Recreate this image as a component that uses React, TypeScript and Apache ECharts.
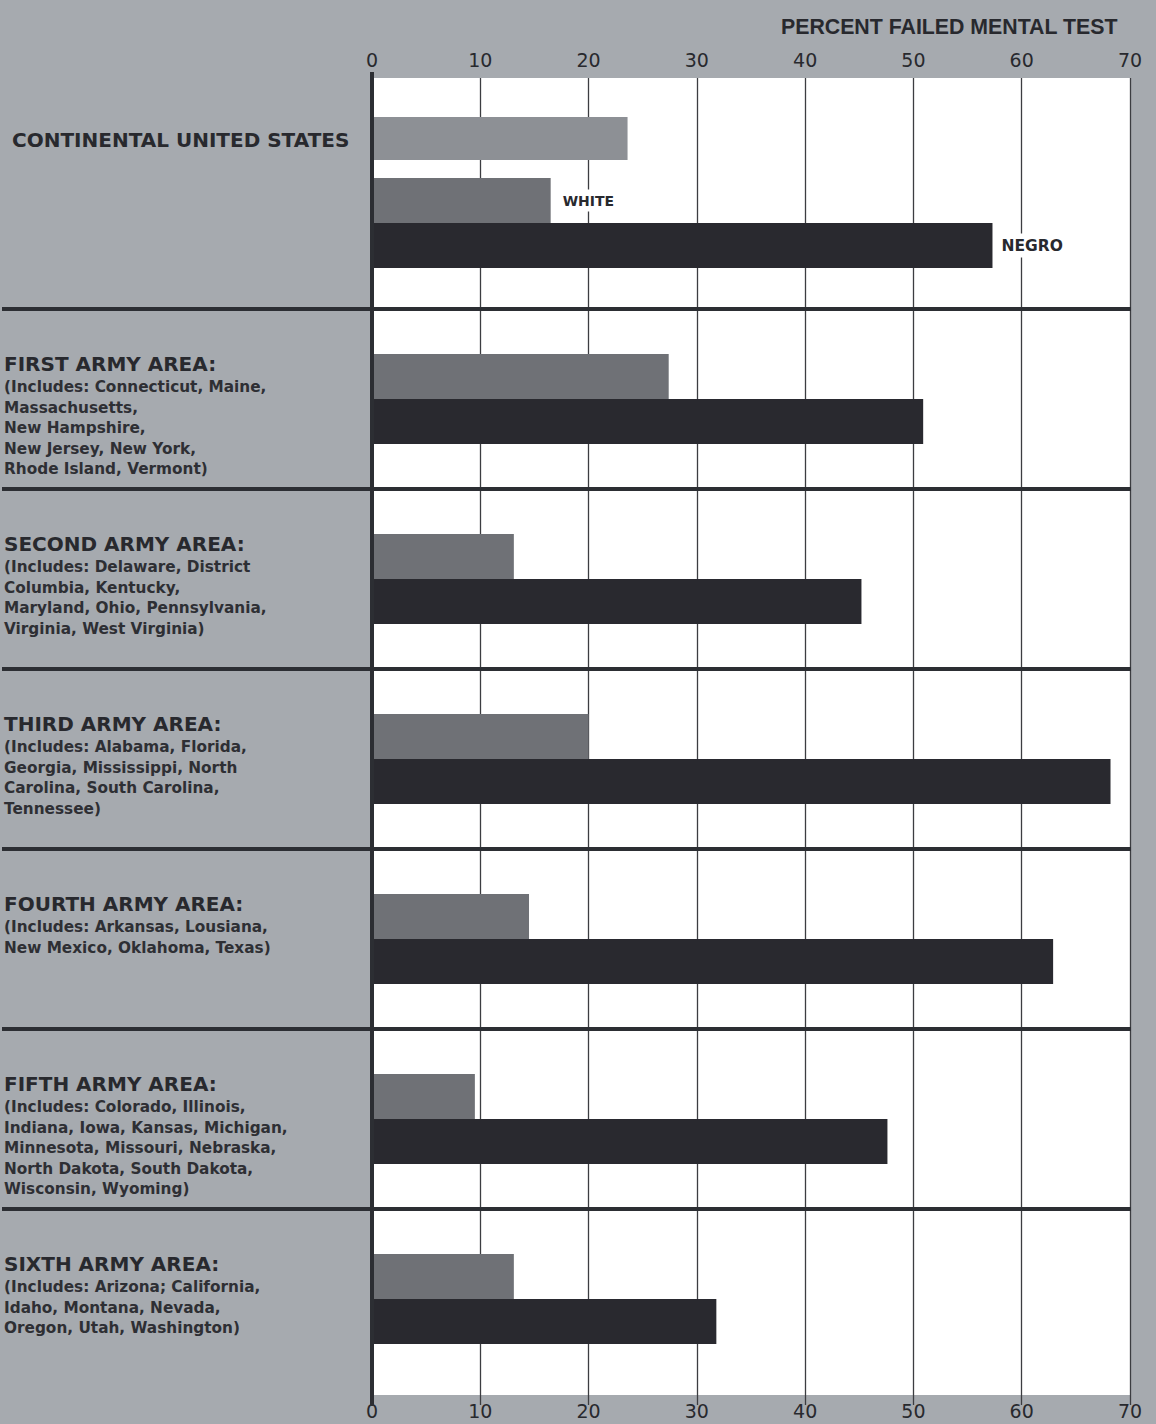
import React, { useEffect, useRef } from "react";
import * as echarts from "echarts";

// ---------- data ----------
const AXIS_TITLE = "PERCENT FAILED MENTAL TEST";
const X_MIN = 0;
const X_MAX = 70;
const X_STEP = 10;

const CONTINENTAL_LABEL = "CONTINENTAL UNITED STATES";
const continentalTotal = [23.6];
const continentalWhite = [16.5];
const continentalNegro = [57.3];
const WHITE_TAG = "WHITE";
const NEGRO_TAG = "NEGRO";

const areaNames = [
  "FIRST ARMY AREA:",
  "SECOND ARMY AREA:",
  "THIRD ARMY AREA:",
  "FOURTH ARMY AREA:",
  "FIFTH ARMY AREA:",
  "SIXTH ARMY AREA:",
];
const areaIncludes = [
  ["(Includes: Connecticut, Maine,", "Massachusetts,", "New Hampshire,", "New Jersey, New York,", "Rhode Island, Vermont)"],
  ["(Includes: Delaware, District", "Columbia, Kentucky,", "Maryland, Ohio, Pennsylvania,", "Virginia, West Virginia)"],
  ["(Includes: Alabama, Florida,", "Georgia, Mississippi, North", "Carolina, South Carolina,", "Tennessee)"],
  ["(Includes: Arkansas, Lousiana,", "New Mexico, Oklahoma, Texas)"],
  ["(Includes: Colorado, Illinois,", "Indiana, Iowa, Kansas, Michigan,", "Minnesota, Missouri, Nebraska,", "North Dakota, South Dakota,", "Wisconsin, Wyoming)"],
  ["(Includes: Arizona; California,", "Idaho, Montana, Nevada,", "Oregon, Utah, Washington)"],
];
const whiteRates = [27.4, 13.1, 20.0, 14.5, 9.5, 13.1];
const negroRates = [50.9, 45.2, 68.2, 62.9, 47.6, 31.8];

// ---------- layout & style ----------
const W = 1156;
const H = 1424;
const PLOT_LEFT = 372;
const PLOT_RIGHT_X = 1130;
const PLOT_TOP = 78;
const PLOT_BOTTOM_Y = 1395;
const AREA_TOP = 309;
const AREA_H = 1080;
const BAR_W = 45;
const CONT_TOTAL_TOP = 117;
const CONT_TOTAL_H = 43;
const CONT_PAIR_TOP = 178;

const BG = "#a6aaaf";
const TOTAL_COLOR = "#8d9095";
const WHITE_COLOR = "#6f7176";
const NEGRO_COLOR = "#29292f";
const INK = "#28292e";
const SUB_INK = "#2e2f34";
const RULE = "#2c2e33";
const GRIDLINE = "#3c3d41";
const LABEL_FONT = '"DejaVu Sans", Lato, sans-serif';

function buildOption() {
  const right = W - PLOT_RIGHT_X;
  const hiddenX = (gridIndex: number) => ({
    type: "value",
    gridIndex,
    min: X_MIN,
    max: X_MAX,
    interval: X_STEP,
    show: false,
  });

  const graphics: any[] = [];
  const band = AREA_H / areaNames.length;
  for (let k = 0; k < areaNames.length; k++) {
    const y = AREA_TOP + k * band;
    graphics.push({
      type: "line",
      z: 50,
      shape: { x1: 2, y1: y, x2: PLOT_RIGHT_X + 1, y2: y },
      style: { stroke: RULE, lineWidth: 4 },
    });
  }
  graphics.push({
    type: "line",
    z: 60,
    shape: { x1: PLOT_LEFT, y1: PLOT_TOP - 6, x2: PLOT_LEFT, y2: PLOT_BOTTOM_Y + 11 },
    style: { stroke: RULE, lineWidth: 4 },
  });

  const txt = (text: string, x: number, y: number, size: number, fill: string) => ({
    type: "text",
    z: 60,
    x,
    y,
    style: {
      text,
      fill,
      font: `bold ${size}px ${LABEL_FONT}`,
      align: "left",
      verticalAlign: "middle",
      textAlign: "left",
      textVerticalAlign: "middle",
    },
  });

  graphics.push(txt(CONTINENTAL_LABEL, 12, CONT_TOTAL_TOP + CONT_TOTAL_H / 2 + 1, 20, INK));

  areaNames.forEach((name, i) => {
    const center = AREA_TOP + (i + 0.5) * band;
    const barTop = center - BAR_W;
    const titleY = barTop + 10;
    graphics.push(txt(name, 4, titleY, 20, INK));
    areaIncludes[i].forEach((line, j) => {
      graphics.push(txt(line, 4, titleY + 23 + j * 20.5, 15.3, SUB_INK));
    });
  });

  const tagLabel = (text: string, distance: number, size: number) => ({
    show: true,
    position: "right",
    distance,
    formatter: () => text,
    color: INK,
    fontFamily: LABEL_FONT,
    fontWeight: "bold",
    fontSize: size,
    backgroundColor: "#ffffff",
    padding: [4, 3, 4, 3],
  });

  const tickLabel = (margin: number) => ({
    show: true,
    margin,
    color: INK,
    fontFamily: LABEL_FONT,
    fontSize: 19,
  });

  return {
    animation: false,
    backgroundColor: BG,
    title: {
      text: AXIS_TITLE,
      left: 776,
      top: 11,
      textStyle: {
        color: INK,
        fontFamily: '"Liberation Sans", Arial, sans-serif',
        fontWeight: "bold",
        fontSize: 21.3,
      },
    },
    grid: [
      {
        left: PLOT_LEFT,
        right,
        top: PLOT_TOP,
        bottom: H - PLOT_BOTTOM_Y,
        show: true,
        backgroundColor: "#ffffff",
        borderWidth: 0,
      },
      { left: PLOT_LEFT, right, top: CONT_TOTAL_TOP, height: CONT_TOTAL_H },
      { left: PLOT_LEFT, right, top: CONT_PAIR_TOP, height: BAR_W * 2 },
      { left: PLOT_LEFT, right, top: AREA_TOP, height: AREA_H },
    ],
    xAxis: [
      {
        type: "value",
        gridIndex: 0,
        position: "bottom",
        min: X_MIN,
        max: X_MAX,
        interval: X_STEP,
        axisLine: { show: false },
        axisTick: { show: true, inside: false, length: 10, lineStyle: { color: GRIDLINE, width: 1.3 } },
        axisLabel: tickLabel(6),
        splitLine: { show: true, lineStyle: { color: GRIDLINE, width: 1.3 } },
      },
      {
        type: "value",
        gridIndex: 0,
        position: "top",
        min: X_MIN,
        max: X_MAX,
        interval: X_STEP,
        axisLine: { show: false },
        axisTick: { show: false },
        axisLabel: tickLabel(9),
        splitLine: { show: false },
      },
      hiddenX(1),
      hiddenX(2),
      hiddenX(3),
    ],
    yAxis: [
      { type: "value", gridIndex: 0, show: false },
      { type: "category", gridIndex: 1, show: false, inverse: true, data: [CONTINENTAL_LABEL] },
      { type: "category", gridIndex: 2, show: false, inverse: true, data: [CONTINENTAL_LABEL] },
      { type: "category", gridIndex: 3, show: false, inverse: true, data: areaNames },
    ],
    graphic: graphics,
    series: [
      {
        name: "Total",
        type: "bar",
        xAxisIndex: 2,
        yAxisIndex: 1,
        data: continentalTotal,
        barWidth: CONT_TOTAL_H,
        itemStyle: { color: TOTAL_COLOR },
      },
      {
        name: "White (continental)",
        type: "bar",
        xAxisIndex: 3,
        yAxisIndex: 2,
        data: continentalWhite,
        barWidth: BAR_W,
        barGap: "0%",
        itemStyle: { color: WHITE_COLOR },
        label: tagLabel(WHITE_TAG, 9, 14),
      },
      {
        name: "Negro (continental)",
        type: "bar",
        xAxisIndex: 3,
        yAxisIndex: 2,
        data: continentalNegro,
        barWidth: BAR_W,
        barGap: "0%",
        itemStyle: { color: NEGRO_COLOR },
        label: tagLabel(NEGRO_TAG, 6, 15.5),
      },
      {
        name: "White",
        type: "bar",
        xAxisIndex: 4,
        yAxisIndex: 3,
        data: whiteRates,
        barWidth: BAR_W,
        barGap: "0%",
        itemStyle: { color: WHITE_COLOR },
      },
      {
        name: "Negro",
        type: "bar",
        xAxisIndex: 4,
        yAxisIndex: 3,
        data: negroRates,
        barWidth: BAR_W,
        barGap: "0%",
        itemStyle: { color: NEGRO_COLOR },
      },
    ],
  };
}

export default function App() {
  const ref = useRef<HTMLDivElement>(null);
  useEffect(() => {
    if (!ref.current) return;
    const chart = echarts.init(ref.current, null, { renderer: "svg" });
    chart.setOption(buildOption() as any);
    return () => chart.dispose();
  }, []);
  return (
    <div
      ref={ref}
      style={{ position: "absolute", left: 0, top: 0, width: W, height: H }}
    />
  );
}
